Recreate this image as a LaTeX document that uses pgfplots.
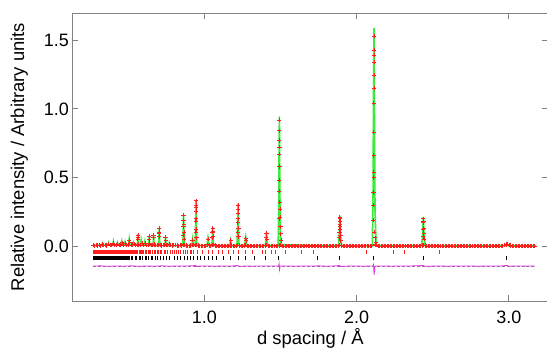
\documentclass[border=0pt]{standalone}
\usepackage{fontspec}
\setmainfont{Liberation Sans}
\usepackage{pgfplots}
\pgfplotsset{compat=1.18}
\definecolor{obsred}{RGB}{255,30,30}
\definecolor{calcgreen}{RGB}{60,235,60}
\definecolor{diffmag}{RGB}{230,50,230}
\definecolor{axgray}{RGB}{130,130,130}
\begin{document}
\begin{tikzpicture}
\begin{axis}[
 at={(0,0)}, anchor=south west,
 scale only axis, width=476bp, height=288bp,
 xmin=0.1333, xmax=3.2587, ymin=-0.4006, ymax=1.699,
 axis line style={axgray, line width=0.9bp},
 tick style={axgray, line width=0.9bp},
 tick align=inside, major tick length=6bp,
 xtick={1,2,3}, xticklabels={1.0,2.0,3.0},
 ytick={0,0.5,1,1.5}, yticklabels={0.0,0.5,1.0,1.5},
 ticklabel style={font=\fontsize{18}{21}\selectfont},
 xticklabel style={yshift=-6bp},
 every axis x label/.style={at={(axis description cs:0.5,0)}, anchor=center, yshift=-37bp, font=\fontsize{18.5}{21}\selectfont},
 every axis y label/.style={at={(axis description cs:0,0.5)}, xshift=-53bp, rotate=90, anchor=center, font=\fontsize{18.5}{21}\selectfont},
 xlabel={d spacing / Å},
 ylabel={Relative intensity / Arbitrary units},
]
% reflection tick marks: solid bands at low d
\addplot[obsred, line width=4bp, forget plot] coordinates {(0.27,-0.044)(0.565,-0.044)};
\addplot[black, line width=3.5bp, forget plot] coordinates {(0.27,-0.087)(0.505,-0.087)};
\addplot[only marks, mark=|, mark size=2bp, obsred, mark options={line width=0.6bp}] table[y expr=-0.044] {
x
0.570
0.578
0.586
0.593
0.600
0.610
0.620
0.630
0.640
0.648
0.660
0.670
0.680
0.690
0.700
0.710
0.720
0.735
0.745
0.760
0.775
0.790
0.800
0.815
0.830
0.845
0.860
0.875
0.890
0.905
0.915
0.930
0.952
0.985
1.024
1.051
1.090
1.120
1.160
1.193
1.226
1.270
1.314
1.380
1.401
1.441
1.467
1.533
1.638
1.713
2.064
2.239
2.311
2.546
};
\addplot[only marks, mark=|, mark size=2bp, black, mark options={line width=0.6bp}] table[y expr=-0.087] {
x
0.510
0.520
0.530
0.545
0.555
0.570
0.580
0.590
0.610
0.620
0.635
0.650
0.660
0.680
0.690
0.710
0.730
0.750
0.770
0.800
0.820
0.840
0.870
0.890
0.910
0.930
0.952
0.974
1.002
1.029
1.051
1.077
1.127
1.171
1.222
1.270
1.331
1.401
1.489
1.745
1.884
2.107
2.436
2.985
};
% difference curve
\addplot[axgray, densely dashed, line width=0.6bp, forget plot] coordinates {(0.27,-0.146)(3.17,-0.146)};
\addplot[diffmag, line width=0.8bp] coordinates {
(0.27,-0.146)(0.32,-0.144)(0.37,-0.148)(0.42,-0.145)(0.47,-0.147)(0.52,-0.144)(0.57,-0.148)
(0.62,-0.145)(0.67,-0.147)(0.72,-0.144)(0.77,-0.147)(0.82,-0.145)(0.87,-0.146)(0.92,-0.144)
(0.945,-0.141)(0.95,-0.15)(0.97,-0.146)(1.02,-0.145)(1.07,-0.147)(1.12,-0.145)(1.17,-0.146)
(1.22,-0.142)(1.23,-0.149)(1.27,-0.145)(1.32,-0.147)(1.37,-0.145)(1.42,-0.146)(1.47,-0.145)
(1.488,-0.146)(1.491,-0.128)(1.494,-0.172)(1.498,-0.146)(1.55,-0.145)(1.60,-0.147)(1.65,-0.145)
(1.70,-0.146)(1.75,-0.144)(1.80,-0.147)(1.85,-0.145)(1.89,-0.142)(1.895,-0.149)(1.95,-0.146)
(2.00,-0.145)(2.05,-0.147)(2.10,-0.145)(2.108,-0.146)(2.111,-0.136)(2.115,-0.21)(2.12,-0.152)
(2.125,-0.146)(2.18,-0.145)(2.23,-0.147)(2.28,-0.145)(2.33,-0.146)(2.38,-0.144)(2.438,-0.142)
(2.445,-0.148)(2.50,-0.146)(2.55,-0.145)(2.60,-0.147)(2.65,-0.145)(2.70,-0.146)(2.75,-0.145)
(2.80,-0.147)(2.85,-0.145)(2.90,-0.146)(2.95,-0.145)(2.987,-0.141)(3.00,-0.147)(3.05,-0.145)
(3.10,-0.146)(3.17,-0.145)
};
% calculated profile
\addplot[calcgreen, line width=1.6bp] coordinates {
(0.27,0.005)(0.326,0.006)(0.33,0.018)(0.334,0.007)(0.366,0.006)(0.37,0.022)(0.374,0.007)
(0.399,0.007)(0.403,0.032)(0.407,0.008)(0.426,0.008)(0.43,0.024)(0.434,0.008)
(0.454,0.008)(0.458,0.033)(0.462,0.009)(0.476,0.008)(0.48,0.028)(0.484,0.008)
(0.503,0.008)(0.507,0.048)(0.511,0.009)(0.531,0.007)(0.535,0.024)(0.539,0.007)
(0.559,0.006)(0.562,0.03)(0.564,0.087)(0.566,0.035)(0.569,0.006)
(0.581,0.005)(0.585,0.042)(0.589,0.005)(0.606,0.005)(0.61,0.032)(0.614,0.005)
(0.633,0.004)(0.636,0.025)(0.638,0.072)(0.640,0.03)(0.643,0.004)
(0.662,0.004)(0.665,0.03)(0.667,0.082)(0.669,0.035)(0.672,0.004)
(0.699,0.004)(0.702,0.045)(0.704,0.132)(0.706,0.055)(0.709,0.004)
(0.74,0.003)(0.743,0.025)(0.745,0.067)(0.747,0.028)(0.75,0.003)
(0.766,0.003)(0.77,0.022)(0.774,0.003)
(0.858,0.003)(0.861,0.07)(0.864,0.228)(0.867,0.09)(0.870,0.004)
(0.918,0.003)(0.923,0.047)(0.928,0.003)
(0.939,0.003)(0.942,0.1)(0.945,0.335)(0.948,0.13)(0.951,0.004)
(1.018,0.002)(1.024,0.057)(1.03,0.003)
(1.049,0.002)(1.052,0.045)(1.055,0.137)(1.058,0.055)(1.061,0.003)
(1.167,0.002)(1.173,0.042)(1.179,0.002)
(1.214,0.002)(1.218,0.1)(1.221,0.31)(1.224,0.12)(1.228,0.003)
(1.265,0.002)(1.272,0.062)(1.279,0.003)
(1.4,0.002)(1.404,0.035)(1.408,0.102)(1.412,0.04)(1.416,0.002)
(1.485,0.002)(1.489,0.3)(1.491,0.7)(1.493,0.945)(1.495,0.6)(1.498,0.15)(1.503,0.01)
(1.88,0.001)(1.886,0.07)(1.89,0.222)(1.894,0.09)(1.9,0.002)
(2.103,0.001)(2.108,0.4)(2.111,1.1)(2.114,1.59)(2.117,1.0)(2.121,0.25)(2.128,0.02)(2.135,0.002)
(2.426,0.001)(2.433,0.07)(2.438,0.212)(2.443,0.08)(2.45,0.002)
(2.975,0.001)(2.987,0.022)(2.999,0.001)(3.18,0.0)
};
% observed points
\addplot[only marks, mark=+, mark size=2.1bp, obsred, mark options={line width=0.7bp}] table {
x y
0.27 0.006
0.28 0.002
0.29 0.008
0.30 0.004
0.31 0.007
0.32 0.003
0.33 0.012
0.34 0.005
0.35 0.008
0.36 0.004
0.37 0.015
0.38 0.006
0.39 0.009
0.40 0.018
0.41 0.007
0.42 0.010
0.43 0.016
0.44 0.006
0.45 0.012
0.46 0.025
0.47 0.008
0.48 0.020
0.49 0.007
0.50 0.012
0.51 0.030
0.52 0.008
0.53 0.012
0.54 0.015
0.55 0.006
0.56 0.010
0.57 0.012
0.58 0.008
0.59 0.020
0.60 0.006
0.61 0.018
0.62 0.006
0.63 0.008
0.64 0.020
0.65 0.006
0.66 0.010
0.67 0.012
0.68 0.005
0.69 0.007
0.70 0.010
0.71 0.006
0.72 0.004
0.73 0.005
0.74 0.010
0.75 0.008
0.76 0.006
0.77 0.012
0.78 0.008
0.79 0.004
0.80 0.005
0.81 0.005
0.82 0.004
0.83 0.003
0.84 0.006
0.85 0.004
0.86 0.010
0.87 0.006
0.88 0.004
0.89 0.003
0.90 0.003
0.91 0.004
0.92 0.008
0.93 0.006
0.94 0.010
0.95 0.008
0.96 0.004
0.97 0.002
0.98 0.003
0.99 0.003
1.00 0.002
1.01 0.001
1.02 0.010
1.03 0.004
1.04 0.003
1.05 0.006
1.06 0.010
1.07 0.004
1.08 0.002
1.09 0.001
1.10 0.003
1.11 0.001
1.12 -0.001
1.13 0.003
1.14 0.002
1.15 0.000
1.16 0.001
1.17 0.004
1.18 0.004
1.19 0.002
1.20 0.000
1.21 0.003
1.22 0.006
1.23 0.004
1.24 0.002
1.25 0.000
1.26 0.004
1.27 0.005
1.28 0.001
1.29 0.002
1.30 -0.001
1.31 0.001
1.32 0.002
1.33 -0.002
1.34 0.000
1.35 0.002
1.36 0.003
1.37 0.000
1.38 -0.001
1.39 0.002
1.40 0.004
1.41 0.006
1.42 0.002
1.43 -0.001
1.44 0.000
1.45 0.003
1.46 0.002
1.47 0.000
1.48 0.003
1.49 0.004
1.50 0.006
1.51 0.003
1.52 0.001
1.53 0.000
1.54 -0.001
1.55 0.002
1.56 0.002
1.57 -0.001
1.58 0.000
1.59 0.003
1.60 0.002
1.61 0.000
1.62 -0.001
1.63 0.001
1.64 0.003
1.65 -0.002
1.66 0.000
1.67 0.002
1.68 0.001
1.69 0.000
1.70 -0.001
1.71 0.003
1.72 0.002
1.73 -0.001
1.74 0.000
1.75 0.002
1.76 0.001
1.77 0.000
1.78 -0.002
1.79 0.001
1.80 0.002
1.81 -0.001
1.82 0.000
1.83 0.003
1.84 0.001
1.85 0.000
1.86 -0.001
1.87 0.002
1.88 0.003
1.89 0.005
1.90 0.004
1.91 0.002
1.92 0.000
1.93 -0.001
1.94 0.001
1.95 0.003
1.96 -0.001
1.97 0.000
1.98 0.002
1.99 0.001
2.00 0.000
2.01 -0.002
2.02 0.001
2.03 0.002
2.04 -0.001
2.05 0.000
2.06 0.002
2.07 0.003
2.08 0.000
2.09 0.001
2.10 0.003
2.12 0.010
2.13 0.005
2.14 0.002
2.15 0.001
2.16 0.000
2.17 -0.001
2.18 0.001
2.19 0.003
2.20 -0.001
2.21 0.000
2.22 0.002
2.23 0.001
2.24 0.000
2.25 -0.002
2.26 0.001
2.27 0.002
2.28 -0.002
2.29 0.000
2.30 0.001
2.31 0.003
2.32 0.000
2.33 -0.001
2.34 0.002
2.35 0.001
2.36 -0.001
2.37 0.000
2.38 0.001
2.39 0.002
2.40 0.000
2.41 -0.001
2.42 0.002
2.43 0.004
2.44 0.008
2.45 0.004
2.46 0.001
2.47 0.000
2.48 -0.001
2.49 0.002
2.50 0.001
2.51 -0.001
2.52 0.000
2.53 0.003
2.54 0.002
2.55 0.000
2.56 -0.001
2.57 0.001
2.58 0.001
2.59 -0.002
2.60 0.000
2.61 0.002
2.62 0.001
2.63 0.000
2.64 -0.002
2.65 0.001
2.66 0.001
2.67 0.003
2.68 0.000
2.69 -0.001
2.70 0.002
2.71 0.001
2.72 -0.001
2.73 0.000
2.74 0.000
2.75 0.002
2.76 0.001
2.77 -0.002
2.78 -0.001
2.79 0.001
2.80 0.002
2.81 0.003
2.82 0.000
2.83 -0.001
2.84 0.001
2.85 0.002
2.86 -0.001
2.87 0.000
2.88 0.000
2.89 0.001
2.90 0.002
2.91 0.000
2.92 -0.001
2.93 0.002
2.94 0.001
2.95 0.000
2.96 0.003
2.97 0.006
2.98 0.012
2.99 0.014
3.00 0.008
3.01 0.004
3.02 0.002
3.03 0.001
3.04 0.000
3.05 -0.001
3.06 0.001
3.07 0.002
3.08 -0.001
3.09 0.000
3.10 0.001
3.11 0.003
3.12 0.000
3.13 -0.001
3.14 0.002
3.15 0.001
3.16 -0.001
3.17 0.001
0.507 0.045
0.563 0.050
0.564 0.080
0.565 0.060
0.637 0.050
0.638 0.070
0.666 0.060
0.667 0.080
0.703 0.070
0.704 0.100
0.704 0.130
0.705 0.090
0.745 0.065
0.746 0.040
0.862 0.080
0.863 0.140
0.864 0.190
0.864 0.225
0.865 0.160
0.866 0.100
0.867 0.050
0.923 0.045
0.943 0.100
0.944 0.180
0.945 0.250
0.945 0.300
0.945 0.330
0.946 0.280
0.947 0.200
0.948 0.120
0.949 0.060
1.024 0.050
1.053 0.060
1.054 0.100
1.055 0.130
1.056 0.110
1.057 0.070
1.173 0.040
1.219 0.100
1.220 0.170
1.221 0.240
1.221 0.300
1.222 0.270
1.223 0.200
1.224 0.130
1.225 0.070
1.272 0.055
1.273 0.040
1.407 0.060
1.408 0.095
1.409 0.090
1.410 0.050
1.490 0.200
1.491 0.400
1.492 0.480
1.492 0.580
1.493 0.670
1.493 0.770
1.493 0.840
1.493 0.920
1.494 0.720
1.495 0.580
1.496 0.320
1.497 0.270
1.498 0.210
1.500 0.140
1.502 0.090
1.504 0.040
1.887 0.060
1.888 0.100
1.889 0.140
1.890 0.180
1.890 0.210
1.891 0.200
1.892 0.160
1.893 0.120
1.894 0.080
1.896 0.040
2.109 0.190
2.110 0.300
2.111 0.390
2.112 0.500
2.112 0.540
2.113 0.660
2.113 0.830
2.113 1.040
2.114 1.150
2.114 1.245
2.114 1.340
2.114 1.390
2.114 1.430
2.114 1.530
2.116 0.100
2.120 0.060
2.126 0.030
2.436 0.070
2.437 0.120
2.438 0.170
2.438 0.200
2.439 0.180
2.440 0.130
2.441 0.090
2.443 0.050
2.987 0.015
};
\end{axis}
\pgfresetboundingbox
\path[use as bounding box] (-72.3bp,-53bp) rectangle (474.7bp,301bp);
\end{tikzpicture}
\end{document}
